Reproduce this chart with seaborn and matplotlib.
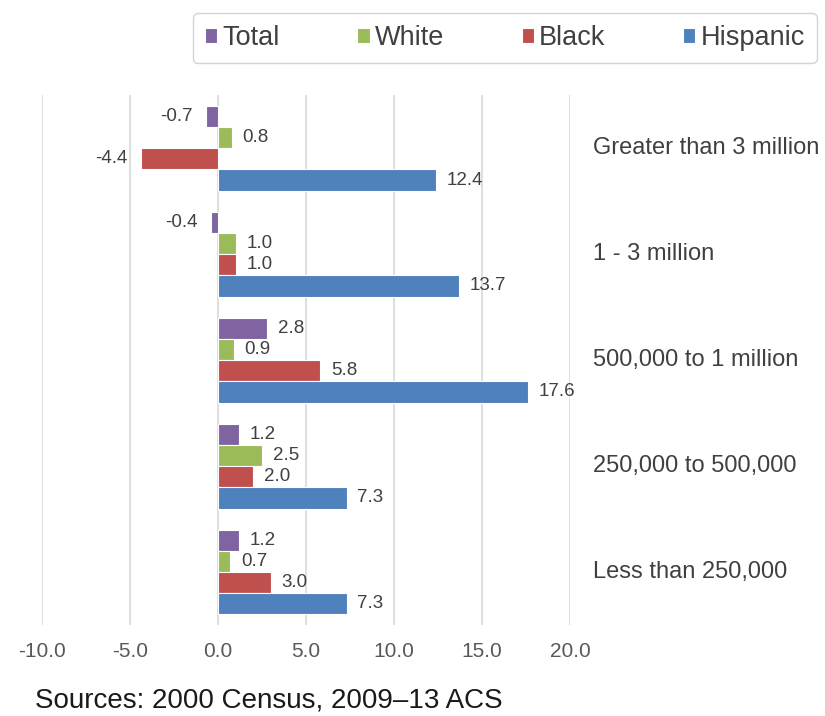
import pandas as pd
import matplotlib.pyplot as plt
import seaborn as sns

sns.set_style('white')
plt.rcParams['font.family'] = ['Liberation Sans', 'DejaVu Sans']

sizes = ['Greater than 3 million', '1 - 3 million', '500,000 to 1 million',
         '250,000 to 500,000', 'Less than 250,000']
groups = ['Total', 'White', 'Black', 'Hispanic']
total = [-0.7, -0.4, 2.8, 1.2, 1.2]
white = [0.8, 1.0, 0.9, 2.5, 0.7]
black = [-4.4, 1.0, 5.8, 2.0, 3.0]
hispanic = [12.4, 13.7, 17.6, 7.3, 7.3]
colors = ['#8064A2', '#9BBB59', '#C0504D', '#4F81BD']

rows = []
for g, vals in zip(groups, [total, white, black, hispanic]):
    for s, v in zip(sizes, vals):
        rows.append({'Size': s, 'Group': g, 'Value': v})
df = pd.DataFrame(rows)

fig = plt.figure(figsize=(8.25, 7.16), dpi=100)
ax = fig.add_axes([0.051, 0.127, 0.640, 0.740])

sns.barplot(data=df, y='Size', x='Value', hue='Group', order=sizes,
            hue_order=groups, palette=colors, orient='h', width=0.8,
            saturation=1, ax=ax, legend=True, zorder=3,
            edgecolor='white', linewidth=0.8)

# value labels
for cont, g in zip(ax.containers, groups):
    vals = df[df.Group == g].set_index('Size').loc[sizes, 'Value']
    for p, v in zip(cont.patches, vals):
        yc = p.get_y() + p.get_height() / 2
        if v < 0:
            ax.text(v - 0.75, yc, f'{v:.1f}', ha='right', va='center',
                    fontsize=13.5, color='#404040')
        else:
            ax.text(v + 0.6, yc, f'{v:.1f}', ha='left', va='center',
                    fontsize=13.5, color='#404040')

ax.set_xlim(-10, 20)
ax.set_xticks(range(-10, 21, 5))
ax.set_xticklabels([f'{t:.1f}' for t in range(-10, 21, 5)])
ax.tick_params(axis='x', labelsize=15, colors='#595959', length=0, pad=12)
ax.set_yticks([])
ax.set_ylabel('')
ax.set_xlabel('')
ax.grid(axis='x', color='#d9d9d9', linewidth=1.2, zorder=0)
ax.set_axisbelow(True)
for sp in ax.spines.values():
    sp.set_visible(False)

for i, s in enumerate(sizes):
    ax.text(21.3, i, s, ha='left', va='center', fontsize=17, color='#404040',
            clip_on=False)

h, l = ax.get_legend_handles_labels()
ax.legend_.remove()
leg = fig.legend(h, l, loc='center', bbox_to_anchor=(0.612, 0.947), ncol=4,
                 fontsize=19.5, frameon=True, fancybox=True, handlelength=0.45,
                 handleheight=0.45, handletextpad=0.2, columnspacing=2.85,
                 borderpad=0.45, borderaxespad=0, edgecolor='#c8c8c8')
for t in leg.get_texts():
    t.set_color('#404040')

fig.text(0.043, 0.012, 'Sources: 2000 Census, 2009\u201313 ACS', fontsize=20,
         color='#1a1a1a', va='baseline')

plt.savefig('out.png', dpi=100)
